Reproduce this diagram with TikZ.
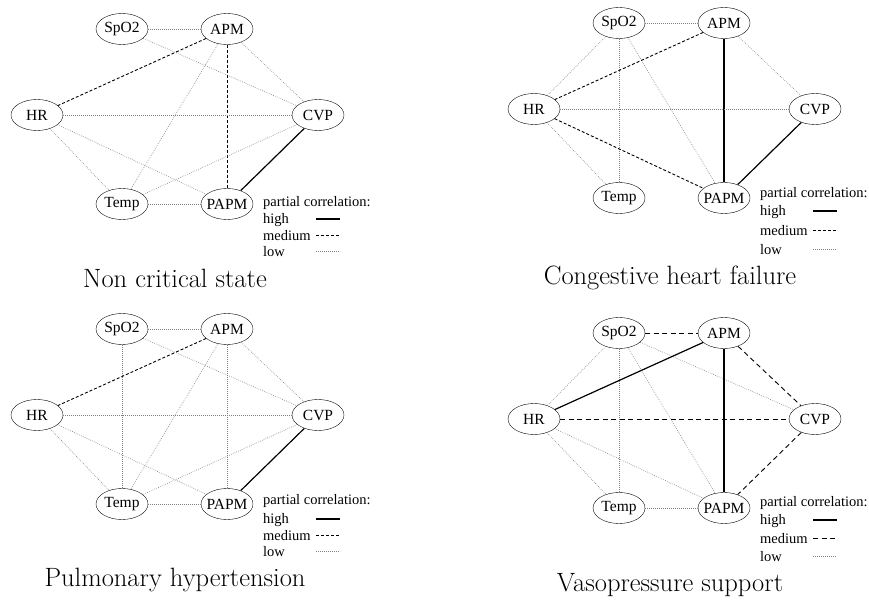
\documentclass[tikz,border=0pt]{standalone}
\usepackage{fontspec}
\newfontfamily\timesfont{Liberation Serif}
\usetikzlibrary{shapes.geometric}

\tikzset{
  vital/.style={draw, ellipse, minimum width=52pt, minimum height=31pt,
    inner xsep=-2.5pt, inner ysep=0pt, font=\timesfont\fontsize{15.5}{17}\selectfont},
  legtext/.style={anchor=west, inner sep=0pt, font=\timesfont\fontsize{14.5}{16}\selectfont},
  hicorr/.style={line width=1.2pt},
  medcorr/.style={line width=0.9pt, dash pattern=on 3pt off 2pt},
  medlong/.style={line width=0.9pt, dash pattern=on 5pt off 3.5pt},
  locorr/.style={line width=0.6pt, gray, dash pattern=on 0.7pt off 1.3pt},
  caption/.style={font=\fontsize{26.5}{30}\selectfont}
}

\begin{document}
\begin{tikzpicture}[x=1pt, y=-1pt]
\useasboundingbox (0,0) rectangle (869,601);

% Non critical state
\begin{scope}[name prefix=nc-]
\node [vital] (spo) at (122,29) {SpO2};
\node [vital] (apm) at (227,29) {APM};
\node [vital] (hr) at (37,115) {HR};
\node [vital] (cvp) at (318,115) {CVP};
\node [vital] (temp) at (122,204) {Temp};
\node [vital] (papm) at (227,204) {PAPM};
\draw
	(spo) edge[locorr] (apm)
	(spo) edge[locorr] (cvp)
	(apm) edge[medcorr] (hr)
	(apm) edge[medcorr] (papm)
	(apm) edge[locorr] (cvp)
	(apm) edge[locorr] (temp)
	(hr) edge[locorr] (cvp)
	(hr) edge[locorr] (papm)
	(hr) edge[locorr] (temp)
	(cvp) edge[locorr] (temp)
	(cvp) edge[hicorr] (papm)
	(temp) edge[locorr] (papm);
% legend
\node [legtext] (leg) at (263,203) {partial correlation:};
\node [legtext] (hi) at (263,220) {high};
\node [legtext] (med) at (263,236) {medium};
\node [legtext] (lo) at (263,252) {low};
\coordinate (hiA) at (316,219); \coordinate (hiB) at (340,219);
\coordinate (medA) at (316,235); \coordinate (medB) at (340,235);
\coordinate (loA) at (316,251); \coordinate (loB) at (340,251);
\draw [hicorr] (hiA) -- (hiB);
\draw [medcorr] (medA) -- (medB);
\draw [locorr] (loA) -- (loB);
\node [caption] (title) at (175,278) {Non critical state};
\end{scope}

% Congestive heart failure
\begin{scope}[name prefix=chf-, shift={(497,-6)}]
\node [vital] (spo) at (122,29) {SpO2};
\node [vital] (apm) at (227,29) {APM};
\node [vital] (hr) at (37,115) {HR};
\node [vital] (cvp) at (318,115) {CVP};
\node [vital] (temp) at (122,204) {Temp};
\node [vital] (papm) at (227,204) {PAPM};
\draw
	(spo) edge[locorr] (apm)
	(spo) edge[locorr] (hr)
	(spo) edge[locorr] (temp)
	(spo) edge[locorr] (papm)
	(apm) edge[medcorr] (hr)
	(apm) edge[hicorr] (papm)
	(apm) edge[locorr] (cvp)
	(hr) edge[locorr] (cvp)
	(hr) edge[medcorr] (papm)
	(hr) edge[locorr] (temp)
	(cvp) edge[hicorr] (papm);
% legend
\node [legtext] (leg) at (263,200) {partial correlation:};
\node [legtext] (hi) at (263,218) {high};
\node [legtext] (med) at (263,237) {medium};
\node [legtext] (lo) at (263,256) {low};
\coordinate (hiA) at (316,217); \coordinate (hiB) at (340,217);
\coordinate (medA) at (316,236); \coordinate (medB) at (340,236);
\coordinate (loA) at (316,255); \coordinate (loB) at (340,255);
\draw [hicorr] (hiA) -- (hiB);
\draw [medcorr] (medA) -- (medB);
\draw [locorr] (loA) -- (loB);
\end{scope}
\node [caption] (chf-title) at (670,278) {Congestive heart failure};

% Pulmonary hypertension
\begin{scope}[name prefix=ph-, shift={(0,300)}]
\node [vital] (spo) at (122,29) {SpO2};
\node [vital] (apm) at (227,29) {APM};
\node [vital] (hr) at (37,115) {HR};
\node [vital] (cvp) at (318,115) {CVP};
\node [vital] (temp) at (122,204) {Temp};
\node [vital] (papm) at (227,204) {PAPM};
\draw
	(spo) edge[locorr] (apm)
	(spo) edge[locorr] (cvp)
	(spo) edge[locorr] (temp)
	(apm) edge[medcorr] (hr)
	(apm) edge[locorr] (papm)
	(apm) edge[locorr] (cvp)
	(apm) edge[locorr] (temp)
	(hr) edge[locorr] (cvp)
	(hr) edge[locorr] (papm)
	(hr) edge[locorr] (temp)
	(cvp) edge[locorr] (temp)
	(cvp) edge[hicorr] (papm)
	(temp) edge[locorr] (papm);
% legend
\node [legtext] (leg) at (263,201) {partial correlation:};
\node [legtext] (hi) at (263,220) {high};
\node [legtext] (med) at (263,236) {medium};
\node [legtext] (lo) at (263,252) {low};
\coordinate (hiA) at (316,219); \coordinate (hiB) at (340,219);
\coordinate (medA) at (316,235); \coordinate (medB) at (340,235);
\coordinate (loA) at (316,251); \coordinate (loB) at (340,251);
\draw [hicorr] (hiA) -- (hiB);
\draw [medcorr] (medA) -- (medB);
\draw [locorr] (loA) -- (loB);
\node [caption] (title) at (175,280) {Pulmonary hypertension};
\end{scope}

% Vasopressure support
\begin{scope}[name prefix=vs-, shift={(497,304)}]
\node [vital] (spo) at (122,29) {SpO2};
\node [vital] (apm) at (227,29) {APM};
\node [vital] (hr) at (37,115) {HR};
\node [vital] (cvp) at (318,115) {CVP};
\node [vital] (temp) at (122,204) {Temp};
\node [vital] (papm) at (227,204) {PAPM};
\draw
	(spo) edge[medlong] (apm)
	(spo) edge[locorr] (hr)
	(spo) edge[locorr] (temp)
	(spo) edge[locorr] (papm)
	(spo) edge[locorr] (cvp)
	(apm) edge[hicorr] (hr)
	(apm) edge[hicorr] (papm)
	(apm) edge[medlong] (cvp)
	(hr) edge[medlong] (cvp)
	(hr) edge[locorr] (papm)
	(hr) edge[locorr] (temp)
	(cvp) edge[medlong] (papm)
	(temp) edge[locorr] (papm);
% legend
\node [legtext] (leg) at (263,199) {partial correlation:};
\node [legtext] (hi) at (263,217) {high};
\node [legtext] (med) at (263,235) {medium};
\node [legtext] (lo) at (263,253) {low};
\coordinate (hiA) at (316,216); \coordinate (hiB) at (340,216);
\coordinate (medA) at (316,234); \coordinate (medB) at (340,234);
\coordinate (loA) at (316,252); \coordinate (loB) at (340,252);
\draw [hicorr] (hiA) -- (hiB);
\draw [medlong] (medA) -- (medB);
\draw [locorr] (loA) -- (loB);
\end{scope}
\node [caption] (vs-title) at (670,585) {Vasopressure support};
\end{tikzpicture}
\end{document}
